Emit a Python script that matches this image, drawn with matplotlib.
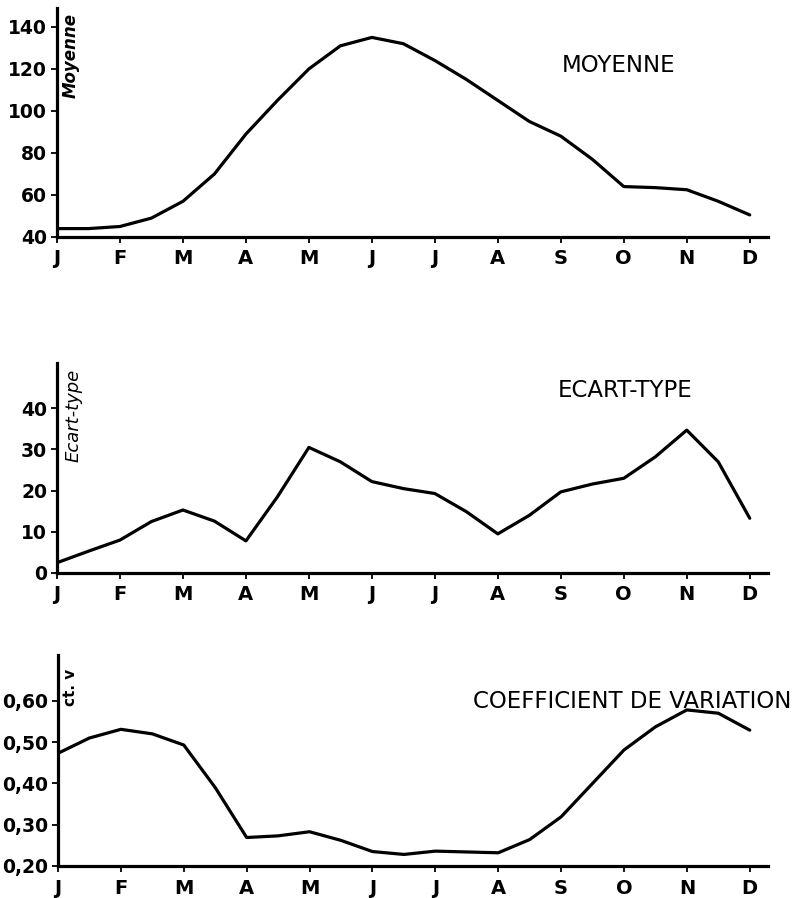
import numpy as np
from matplotlib import pyplot as plt

plt.rcParams['font.family'] = 'DejaVu Sans'

mois = ["J", "F", "M", "A", "M", "J", "J", "A", "S", "O", "N", "D"]
# values read every half month, from J (0) to D (11)
pos = np.arange(0, 11.01, 0.5)

moyenne = [44, 44, 45, 49, 57, 70, 89, 105, 120, 131, 135, 132,
           124, 115, 105, 95, 88, 77, 64, 63.5, 62.5, 57, 50.5]
ecart = [2.5, 5.3, 8, 12.5, 15.3, 12.6, 7.8, 18.5, 30.5, 27, 22.2, 20.5,
         19.3, 14.9, 9.5, 14, 19.7, 21.6, 23, 28.2, 34.7, 27, 13.3]
coef = [0.473, 0.51, 0.531, 0.52, 0.493, 0.39, 0.269, 0.273, 0.283, 0.262,
        0.235, 0.228, 0.236, 0.234, 0.232, 0.264, 0.319, 0.40, 0.481,
        0.537, 0.578, 0.57, 0.529]

yt1 = [40, 60, 80, 100, 120, 140]
yt2 = [0, 10, 20, 30, 40]
yt3 = [0.20, 0.30, 0.40, 0.50, 0.60]
yt3_lab = ["0,20", "0,30", "0,40", "0,50", "0,60"]

W, H = 805, 898
fig = plt.figure(figsize=(W / 100, H / 100), dpi=100)

def panneau(left, bottom, top, ylim, vals, yt, ylab):
    ax = fig.add_axes([left / W, 1 - bottom / H, (768 - left) / W, (bottom - top) / H])
    ax.plot(pos, vals, color="black", lw=2.3, solid_joinstyle="round", solid_capstyle="round")
    ax.set_xlim(0, 11.29)
    ax.set_ylim(*ylim)
    for s in ["top", "right"]:
        ax.spines[s].set_visible(False)
    for s in ["left", "bottom"]:
        ax.spines[s].set_linewidth(2.3)
    ax.set_xticks(range(12))
    ax.set_xticklabels(mois, fontsize=14, fontweight="bold")
    ax.set_yticks(yt)
    ax.set_yticklabels(ylab, fontsize=13.5, fontweight="bold")
    ax.tick_params(length=4, width=1.3, pad=3)
    ax.tick_params(axis="x", pad=5)
    return ax

panneau(57, 237, 8, (40, 149), moyenne, yt1, [str(v) for v in yt1])
panneau(57, 573, 363, (0, 51), ecart, yt2, [str(v) for v in yt2])
panneau(58, 866, 655, (0.20, 0.711), coef, yt3, yt3_lab)

fig.text(562 / W, 1 - 72 / H, "MOYENNE", fontsize=16.5, va="baseline")
fig.text(558 / W, 1 - 397 / H, "ECART-TYPE", fontsize=16.5, va="baseline")
fig.text(473 / W, 1 - 708 / H, "COEFFICIENT DE VARIATION", fontsize=16.5, va="baseline")

fig.text(71 / W, 1 - 55 / H, "Moyenne", rotation=90, fontsize=12, fontweight="bold",
         style="italic", ha="center", va="center")
fig.text(73.5 / W, 1 - 415.5 / H, "Ecart-type", rotation=90, fontsize=13,
         style="italic", ha="center", va="center")
fig.text(70.5 / W, 1 - 687 / H, "ct. v", rotation=90, fontsize=11, fontweight="bold",
         ha="center", va="center")

plt.savefig("out.png", dpi=100)
plt.close()
